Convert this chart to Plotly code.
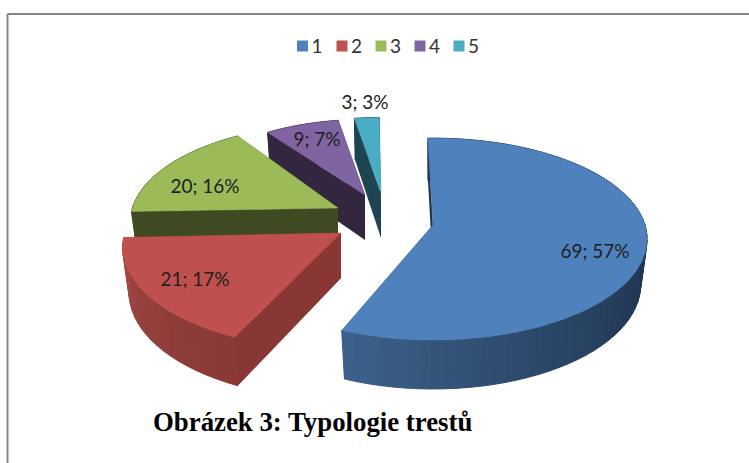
import math
import plotly.graph_objects as go

# data
categories = ["1", "2", "3", "4", "5"]
values = [69, 21, 20, 9, 3]
percent_labels = [57, 17, 16, 7, 3]
title_text = "Obrázek 3: Typologie trestů"

# styles
top_colors = ["#4F81BD", "#C0504D", "#9BBB59", "#8064A2", "#4BACC6"]
cut_colors = ["#1F3550", "#893735", "#3F4A22", "#33263F", "#1D4450"]
rim_dark = ["#1F3550", "#8A3936", "#3F4A22", "#33263F", "#1D4450"]
rim_light = ["#3D618B", "#A44946", "#3F4A22", "#33263F", "#1D4450"]
tips = [(433, 225), (341, 233), (338, 208), (365, 195), (381, 193)]
scales = [1.0, 1.02, 0.97, 0.87, 0.87]
view_skew = [0.0, 3.5, 4.0, 1.0, 1.0]
label_pos = [(595, 253), (195, 281), (205, 188), (317, 141), (365, 104)]
legend_x = [302.5, 342, 381, 420, 459]
draw_order = [3, 4, 2, 0, 1]

A, B, K = 212.0, 99.0, 0.14
DEPTH = 45.0
START = -1.6


def offset(angle, scale):
    u = math.sin(math.radians(angle))
    v = math.cos(math.radians(angle))
    w = 1 + K * v
    return scale * A * u / w, -scale * B * v / w, w


def top_point(i, angle):
    dx, dy, _ = offset(angle, scales[i])
    return tips[i][0] + dx, tips[i][1] + dy


def bottom_point(i, angle):
    dx, dy, w = offset(angle, scales[i])
    return tips[i][0] + dx * 0.97, tips[i][1] + dy * 0.97 + DEPTH / w


def mix(c1, c2, t):
    t = max(0.0, min(1.0, t))
    a = [int(c1[j:j + 2], 16) for j in (1, 3, 5)]
    b = [int(c2[j:j + 2], 16) for j in (1, 3, 5)]
    return "rgb(%d,%d,%d)" % tuple(round(a[j] + (b[j] - a[j]) * t) for j in range(3))


def poly(xs, ys, color, line=0.0):
    return go.Scatter(
        x=xs, y=ys, mode="lines", fill="toself", fillcolor=color,
        line=dict(color=color, width=line), hoverinfo="skip", showlegend=False,
    )


total = sum(values)
bounds = []
a = START
for n, v in enumerate(values):
    bounds.append((a + view_skew[n], a + 360.0 * v / total + view_skew[n]))
    a += 360.0 * v / total

fig = go.Figure()

for i in draw_order:
    a0, a1 = bounds[i]
    tx, ty = tips[i]
    steps = max(2, int((a1 - a0) / 3))
    angs = [a0 + (a1 - a0) * k / steps for k in range(steps + 1)]

    # cut faces
    for edge in (a0, a1):
        px, py = top_point(i, edge)
        qx, qy = bottom_point(i, edge)
        fig.add_trace(poly([tx, px, qx, tx, tx], [ty, py, qy, ty + DEPTH, ty], cut_colors[i]))

    # outer rim
    vis0 = max(a0, 95.0)
    for k in range(steps):
        s, e = angs[k], angs[k + 1]
        t = max(0.0, ((s + e) / 2 - vis0) / max(1e-6, a1 - vis0)) ** 1.4
        col = mix(rim_dark[i], rim_light[i], t)
        p0, p1 = top_point(i, s), top_point(i, e)
        q0, q1 = bottom_point(i, s), bottom_point(i, e)
        fig.add_trace(poly([p0[0], p1[0], q1[0], q0[0], p0[0]],
                           [p0[1], p1[1], q1[1], q0[1], p0[1]], col, 1))

    # re-draw the cut face that faces the viewer on top of the rim
    if i in (1, 2):
        px, py = top_point(i, a0)
        qx, qy = bottom_point(i, a0)
        fig.add_trace(poly([tx, px, qx, tx, tx], [ty, py, qy, ty + DEPTH, ty], cut_colors[i]))

    # top face
    fine = max(8, int((a1 - a0)))
    xs, ys = [tx], [ty]
    for k in range(fine + 1):
        p = top_point(i, a0 + (a1 - a0) * k / fine)
        xs.append(p[0])
        ys.append(p[1])
    xs.append(tx)
    ys.append(ty)
    fig.add_trace(poly(xs, ys, top_colors[i], 0.5))

# data labels
fig.add_trace(go.Scatter(
    x=[p[0] for p in label_pos], y=[p[1] for p in label_pos], mode="text",
    text=[f"{v}; {p}%" for v, p in zip(values, percent_labels)],
    textposition="middle center",
    textfont=dict(family="Lato", size=19, color="#1E1E1E"),
    hoverinfo="skip", showlegend=False,
))

# legend row
fig.add_trace(go.Scatter(
    x=legend_x, y=[46] * 5, mode="markers",
    marker=dict(symbol="square", size=11, color=top_colors),
    hoverinfo="skip", showlegend=False,
))
fig.add_trace(go.Scatter(
    x=[x + 9 for x in legend_x], y=[48] * 5, mode="text", text=categories,
    textposition="middle right",
    textfont=dict(family="Lato", size=19, color="#333333"),
    hoverinfo="skip", showlegend=False,
))

# caption
fig.add_annotation(
    x=312.5, y=422, xref="x", yref="y", text=f"<b>{title_text}</b>", showarrow=False,
    font=dict(family="Liberation Serif", size=26.8, color="#000000"),
)

# chart frame (cropped: top and left edges only)
fig.add_shape(type="line", x0=7.5, x1=749, y0=14, y1=14, line=dict(color="#868686", width=2))
fig.add_shape(type="line", x0=7.5, x1=7.5, y0=14, y1=463, line=dict(color="#868686", width=2))

fig.update_layout(
    width=749, height=463, margin=dict(l=0, r=0, t=0, b=0),
    paper_bgcolor="white", plot_bgcolor="white", showlegend=False,
    xaxis=dict(range=[0, 749], visible=False, fixedrange=True),
    yaxis=dict(range=[463, 0], visible=False, fixedrange=True),
)
fig.write_html("out.html", config=dict(displayModeBar=False),
               post_script="document.body.style.margin='0';")
